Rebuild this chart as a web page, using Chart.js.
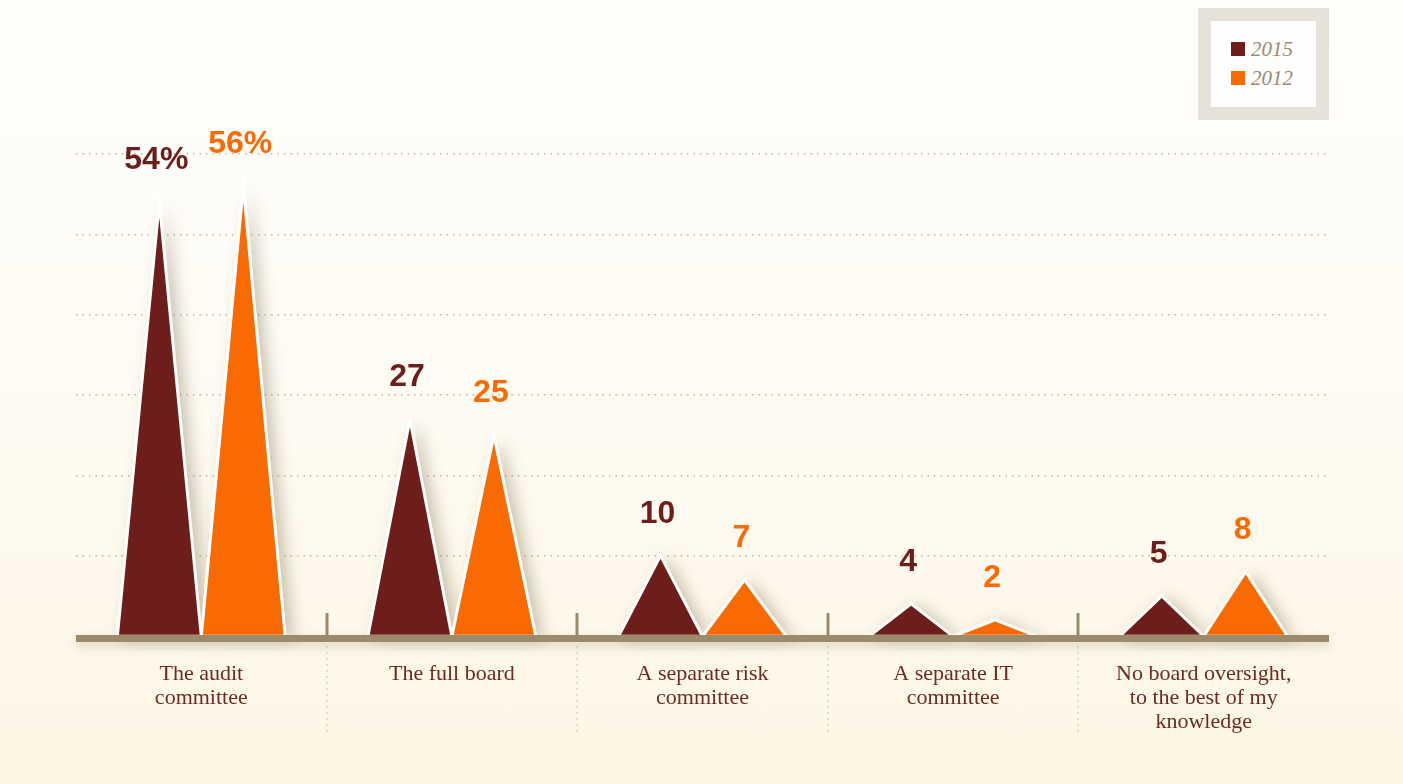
<!DOCTYPE html>
<html>
<head>
<meta charset="utf-8">
<script src="https://cdn.jsdelivr.net/npm/chart.js@4/dist/chart.umd.min.js"></script>
<style>
  html, body { margin: 0; padding: 0; }
  body { width: 1403px; height: 784px; overflow: hidden; position: relative;
         background: linear-gradient(to bottom, #FEFEFC 0%, #FEFBF3 50%, #FDF6E4 100%); }
  #wrap { position: absolute; left: 0; top: 0; width: 1403px; height: 784px; }
  #legend { position: absolute; left: 1198px; top: 8px; width: 131px; height: 112px; box-sizing: border-box;
            border: 13px solid #E6E1D9; background: #FFFEFD; }
  .item { position: absolute; left: 20px; height: 14px; display: flex; align-items: center; }
  .sw { width: 14px; height: 14px; margin-right: 6px; }
  .lt { font-family: "Liberation Serif", serif; font-style: italic; font-size: 21px; line-height: 14px; color: #998B73; }
</style>
</head>
<body>
<div id="wrap"><canvas id="c" width="1403" height="784"></canvas></div>
<div id="legend"></div>
<script>
const categories = [
  ['The audit', 'committee'],
  ['The full board'],
  ['A separate risk', 'committee'],
  ['A separate IT', 'committee'],
  ['No board oversight,', 'to the best of my', 'knowledge']
];
const seriesNames = ['2015', '2012'];
const values2015 = [54, 27, 10, 4, 5];
const values2012 = [56, 25, 7, 2, 8];
const yTicks = [0, 10, 20, 30, 40, 50, 60];

const colors = ['#6D1E1B', '#F96A00'];
const AXIS = '#9C8B6B';

// HTML legend
const legend = document.getElementById('legend');
seriesNames.forEach((n, i) => {
  const d = document.createElement('div');
  d.className = 'item';
  d.style.top = (21 + i * 29) + 'px';
  d.innerHTML = '<div class="sw" style="background:' + colors[i] + '"></div><div class="lt">' + n + '</div>';
  legend.appendChild(d);
});

const trianglePlugin = {
  id: 'triangles',
  beforeDatasetsDraw(chart) {
    const ctx = chart.ctx;
    chart.data.datasets.forEach((ds, di) => {
      const meta = chart.getDatasetMeta(di);
      meta.data.forEach((el) => {
        const x = el.x, y = el.y, b = el.base, w = el.width;
        ctx.save();
        ctx.beginPath();
        ctx.moveTo(x - w / 2, b + 1);
        ctx.lineTo(x, y);
        ctx.lineTo(x + w / 2, b + 1);
        ctx.closePath();
        ctx.shadowColor = 'rgba(110,95,60,0.38)';
        ctx.shadowBlur = 16;
        ctx.shadowOffsetX = 7;
        ctx.shadowOffsetY = 2;
        ctx.fillStyle = ds.backgroundColor;
        ctx.fill();
        ctx.shadowColor = 'transparent';
        ctx.lineJoin = 'miter';
        ctx.miterLimit = 30;
        ctx.lineWidth = 3;
        ctx.strokeStyle = '#FFFFFF';
        ctx.stroke();
        ctx.restore();
      });
    });
    return false;
  },
  afterDraw(chart) {
    const ctx = chart.ctx;
    const xs = chart.scales.x;
    const area = chart.chartArea;
    const base = chart.scales.y.getPixelForValue(0);
    ctx.save();
    // separators
    for (let i = 0; i < categories.length - 1; i++) {
      const bx = (xs.getPixelForValue(i) + xs.getPixelForValue(i + 1)) / 2;
      ctx.fillStyle = AXIS;
      ctx.fillRect(Math.round(bx) - 1.5, base - 23, 3, 23);
      ctx.beginPath();
      ctx.setLineDash([1.5, 4.5]);
      ctx.lineWidth = 1.5;
      ctx.strokeStyle = '#CFC7B2';
      ctx.moveTo(Math.round(bx), base + 10);
      ctx.lineTo(Math.round(bx), base + 100);
      ctx.stroke();
      ctx.setLineDash([]);
    }
    // axis line
    ctx.save();
    ctx.shadowColor = 'rgba(110,95,60,0.25)';
    ctx.shadowBlur = 10;
    ctx.shadowOffsetY = 4;
    ctx.fillStyle = AXIS;
    ctx.fillRect(area.left, base - 1, area.right - area.left, 7);
    ctx.restore();
    // value labels
    ctx.font = 'bold 32px "Liberation Sans", Arial, sans-serif';
    ctx.textAlign = 'center';
    ctx.textBaseline = 'alphabetic';
    chart.data.datasets.forEach((ds, di) => {
      const meta = chart.getDatasetMeta(di);
      meta.data.forEach((el, i) => {
        const v = ds.data[i];
        const txt = i === 0 ? v + '%' : String(v);
        ctx.fillStyle = ds.backgroundColor;
        ctx.fillText(txt, el.x - 3, el.y - 33);
      });
    });
    ctx.restore();
  }
};

new Chart(document.getElementById('c'), {
  type: 'bar',
  data: {
    labels: categories,
    datasets: [
      { label: seriesNames[0], data: values2015, backgroundColor: colors[0] },
      { label: seriesNames[1], data: values2012, backgroundColor: colors[1] }
    ]
  },
  options: {
    responsive: false,
    animation: false,
    events: [],
    layout: { padding: { left: 76, right: 74, top: 154, bottom: 0 } },
    categoryPercentage: 0.67,
    barPercentage: 1.0,
    plugins: { legend: { display: false }, tooltip: { enabled: false } },
    scales: {
      x: {
        grid: { display: false, drawTicks: false },
        border: { display: false },
        ticks: {
          autoSkip: false, maxRotation: 0, minRotation: 0, padding: 26,
          color: '#6E2A24',
          font: { family: '"Liberation Serif", serif', size: 22, lineHeight: 1.1 }
        },
        afterFit(scale) { scale.height = 148; }
      },
      y: {
        min: 0, max: 60,
        afterBuildTicks(scale) { scale.ticks = yTicks.map(v => ({ value: v })); },
        ticks: { display: false },
        border: { display: false, dash: [1.5, 5] },
        grid: {
          drawTicks: false,
          color: (c) => (c.tick && c.tick.value === 0) ? 'rgba(0,0,0,0)' : '#C2BA9E',
          lineWidth: 1.5
        },
        afterFit(scale) { scale.width = 0; }
      }
    }
  },
  plugins: [trianglePlugin]
});
</script>
</body>
</html>
